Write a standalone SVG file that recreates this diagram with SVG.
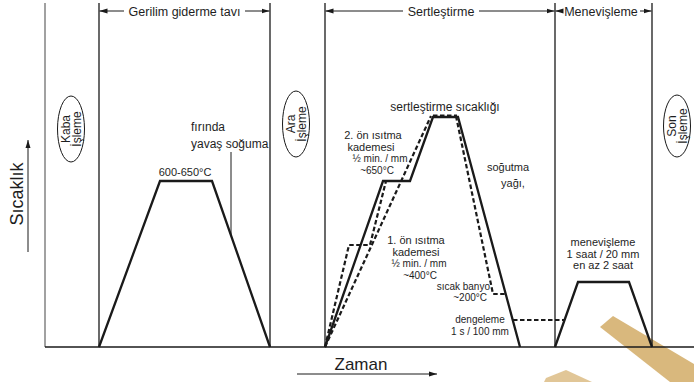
<svg xmlns="http://www.w3.org/2000/svg" width="694" height="382" viewBox="0 0 694 382">
<style>
text{font-family:"Liberation Sans",Arial,sans-serif;fill:#1e1e1e}
.frame{stroke:#1a1a1a;stroke-width:1.3;fill:none}
.curve{stroke:#1a1a1a;stroke-width:2.3;fill:none;stroke-linejoin:miter}
.dash{stroke:#1a1a1a;stroke-width:2.2;fill:none;stroke-dasharray:4.5 2.5}
.thin{stroke:#1a1a1a;stroke-width:1;fill:none}
.hdr{font-size:12.5px}
.lbl{font-size:11px}
.sm{font-size:10px}
.ell{fill:none;stroke:#1a1a1a;stroke-width:1}
.et{font-size:12px}
</style>
<defs>
<marker id="ah" markerWidth="8" markerHeight="6" refX="8" refY="3" orient="auto-start-reverse" markerUnits="userSpaceOnUse">
<path d="M0,0.5 L8,3 L0,5.5 z" fill="#1a1a1a"/>
</marker>
</defs>
<rect width="694" height="382" fill="#ffffff"/>
<g id="watermark">
<polygon points="600,327 613,316 694,364 694,382 670,382" fill="#d9b87d"/>
<polygon points="546,378 566,370 592,382 544,382" fill="#d9b87d" opacity="0.8"/>
</g>
<g id="frame">
<line x1="45" y1="3" x2="45" y2="347" stroke="#8a8a8a" stroke-width="1.6"/>
<line class="frame" x1="99" y1="3" x2="99" y2="347"/>
<line class="frame" x1="270" y1="3" x2="270" y2="347"/>
<line class="frame" x1="325" y1="3" x2="325" y2="347"/>
<line class="frame" x1="555" y1="3" x2="555" y2="347"/>
<line class="frame" x1="652" y1="3" x2="652" y2="347"/>
<line class="frame" x1="45" y1="347" x2="694" y2="347"/>
</g>
<g id="headers">
<line class="thin" x1="124" y1="11" x2="99.5" y2="11" marker-end="url(#ah)"/>
<line class="thin" x1="245" y1="11" x2="269.5" y2="11" marker-end="url(#ah)"/>
<text class="hdr" x="184.5" y="15.5" text-anchor="middle">Gerilim giderme tavı</text>
<line class="thin" x1="403" y1="11" x2="325.5" y2="11" marker-end="url(#ah)"/>
<line class="thin" x1="479" y1="11" x2="554.5" y2="11" marker-end="url(#ah)"/>
<text class="hdr" x="441" y="15.5" text-anchor="middle">Sertleştirme</text>
<line class="thin" x1="563" y1="11" x2="555.5" y2="11" marker-end="url(#ah)"/>
<line class="thin" x1="640" y1="11" x2="651.5" y2="11" marker-end="url(#ah)"/>
<text class="hdr" x="601" y="15.5" text-anchor="middle">Menevişleme</text>
</g>
<g id="axes">
<line class="thin" x1="28" y1="252" x2="28" y2="140" marker-end="url(#ah)"/>
<text x="0" y="0" font-size="18" text-anchor="middle" transform="translate(23,194) rotate(-90)">Sıcaklık</text>
<line class="thin" x1="297" y1="374" x2="437" y2="374" marker-end="url(#ah)"/>
<text x="361" y="370" font-size="17" text-anchor="middle">Zaman</text>
</g>
<g id="kaba">
<ellipse class="ell" cx="71" cy="129" rx="13.5" ry="33"/>
<g transform="translate(71,129) rotate(-90)">
<text class="et" x="0" y="-1.5" text-anchor="middle">Kaba</text>
<text class="et" x="0" y="9.5" text-anchor="middle">İşleme</text>
</g>
</g>
<g id="ara">
<ellipse class="ell" cx="296" cy="124" rx="13.5" ry="33"/>
<g transform="translate(296,124) rotate(-90)">
<text class="et" x="0" y="-1.5" text-anchor="middle">Ara</text>
<text class="et" x="0" y="9.5" text-anchor="middle">İşleme</text>
</g>
</g>
<g id="son">
<ellipse class="ell" cx="677" cy="126" rx="13.5" ry="31"/>
<g transform="translate(677,126) rotate(-90)">
<text class="et" x="0" y="-1.5" text-anchor="middle">Son</text>
<text class="et" x="0" y="9.5" text-anchor="middle">İşleme</text>
</g>
</g>
<g id="gerilim">
<path class="curve" d="M99,347 L160,181 L212,181 L270,347"/>
<line class="thin" x1="231" y1="152" x2="231" y2="235"/>
<text class="lbl" x="185" y="176" text-anchor="middle" font-size="10.5">600-650°C</text>
<text x="191" y="131" font-size="12">fırında</text>
<text x="191" y="148" font-size="12">yavaş soğuma</text>
</g>
<g id="sertlestirme">
<path class="dash" d="M325,347 L349,245 L370,245 L386,181"/>
<path class="dash" d="M325,347 L431,116"/>
<path class="dash" d="M433,115.5 L457,115.5"/>
<path class="dash" d="M456,116 L493,294 L506,294"/>
<path class="curve" d="M325,347 L383,181 L410,181 L433,117 L458,117 L520,347"/>
<path class="dash" d="M513,320 L565,320"/>
<text x="445" y="111" font-size="12" text-anchor="middle">sertleştirme sıcaklığı</text>
<text class="lbl" x="373" y="139" text-anchor="middle">2. ön ısıtma</text>
<text class="lbl" x="371" y="151" text-anchor="middle">kademesi</text>
<text class="sm" x="380" y="162" text-anchor="middle">½ min. / mm</text>
<text class="sm" x="377" y="174" text-anchor="middle">~650°C</text>
<text class="lbl" x="416" y="244" text-anchor="middle">1. ön ısıtma</text>
<text class="lbl" x="416" y="256" text-anchor="middle">kademesi</text>
<text class="sm" x="419" y="267" text-anchor="middle">½ min. / mm</text>
<text class="sm" x="420" y="279" text-anchor="middle">~400°C</text>
<text class="lbl" x="508" y="171" text-anchor="middle">soğutma</text>
<text class="lbl" x="513" y="187" text-anchor="middle">yağı,</text>
<text class="sm" x="490" y="290" text-anchor="end">sıcak banyo</text>
<text class="sm" x="487" y="301" text-anchor="end">~200°C</text>
<text class="sm" x="480" y="323" text-anchor="middle">dengeleme</text>
<text class="sm" x="480" y="335" text-anchor="middle">1 s / 100 mm</text>
</g>
<g id="menevisleme">
<path class="curve" d="M555,347 L578,282 L629,282 L652,347"/>
<text class="lbl" x="603" y="246" text-anchor="middle">menevişleme</text>
<text class="lbl" x="603" y="258" text-anchor="middle">1 saat / 20 mm</text>
<text class="lbl" x="603" y="269" text-anchor="middle">en az 2 saat</text>
</g>
</svg>
